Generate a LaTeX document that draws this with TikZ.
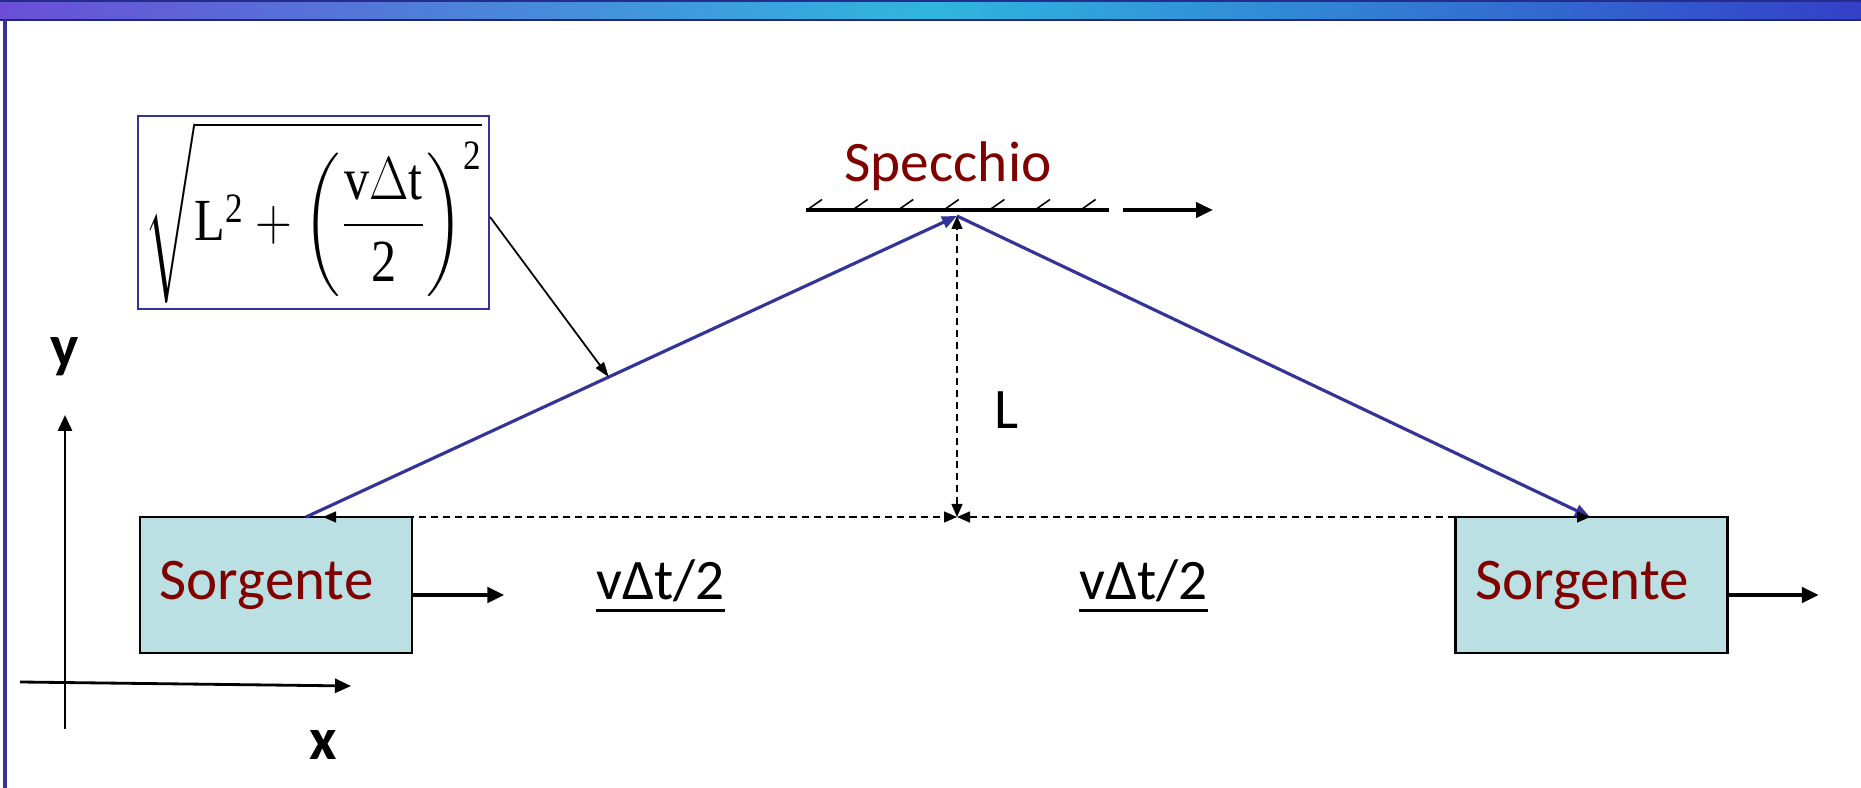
\documentclass[tikz,border=0pt]{standalone}
\usepackage{amsmath,amssymb}
\usepackage{graphicx}
\usepackage{fontspec}
\setmainfont{Liberation Serif}
\setsansfont{Carlito}
\usetikzlibrary{arrows.meta,positioning,calc}
\definecolor{wine}{HTML}{800000}
\definecolor{beamblue}{HTML}{333399}
\definecolor{srcfill}{HTML}{BAE0E3}
\definecolor{bandA}{HTML}{6A4FD6}
\definecolor{bandB}{HTML}{2FB6DE}
\definecolor{bandC}{HTML}{3440C8}

\begin{document}
\begin{tikzpicture}[x=1cm,y=1cm,font=\sffamily\fontsize{16.3}{19}\selectfont,
      box/.style={draw,line width=0.8pt,fill=srcfill,text=wine,inner sep=0pt,
                  minimum width=2.72cm,minimum height=1.36cm,
                  font=\sffamily\fontsize{16.8}{19}\selectfont},
      move/.style={line width=1.2pt,-{Triangle[length=1.7mm,width=1.5mm]}},
      beam/.style={beamblue,line width=0.9pt,-{Triangle[length=1.5mm,width=1.2mm]}},
      meas/.style={line width=0.4pt,dash pattern=on 2pt off 1.4pt,
                   {Triangle[length=1.3mm,width=1.1mm]}-{Triangle[length=1.3mm,width=1.1mm]}},
      axis/.style={line width=0.8pt,-{Triangle[length=1.6mm,width=1.4mm]}},
      lbl/.style={font=\sffamily\bfseries\fontsize{17}{20}\selectfont}]
    \useasboundingbox (0,0) rectangle (18.61,7.88);

    % slide frame
    \shade[left color=bandA,right color=bandC,middle color=bandB] (0,7.68) rectangle (18.61,7.88);
    \draw[bandC!60!black,line width=0.8pt] (0,7.68) -- (18.61,7.68);
    \draw[bandC!70!black,line width=0.8pt] (0,7.87) -- (18.61,7.87);
    \draw[beamblue,line width=0.9pt] (0.05,0) -- (0.05,7.68);

    % axes
    \draw[axis] (0.65,0.59) -- (0.65,3.73);
    \draw[axis] (0.20,1.06) -- (3.51,1.02);
    \node[lbl] (ylab) at (0.65,4.31) {y};
    \node[lbl] (xlab) at (3.23,0.43) {x};

    % sources
    \node[box] (src1) at (2.76,2.03) {Sorgente\kern1.9mm};
    \node[box] (src2) at (15.915,2.03) {Sorgente\kern1.9mm};
    \draw[move] ([yshift=-1mm]src1.east) -- ++(0.91,0);
    \draw[move] ([yshift=-1mm]src2.east) -- ++(0.90,0);

    % mirror
    \coordinate (m1) at (8.06,5.78);
    \coordinate (m2) at (11.09,5.78);
    \draw[line width=1pt] (m1) -- (m2);
    \foreach \i in {0,...,6}{
      \draw[line width=0.45pt] ($(m1)+(0.01+0.456*\i,0)$) -- ++(0.15,0.105);}
    \draw[move] ([xshift=1.4mm]m2) -- ++(0.90,0);
    \node[text=wine,anchor=base] (spec) at (9.48,6.06) {Specchio};

    % light path
    \coordinate (hit) at (9.57,5.72);
    \coordinate (foot) at (9.57,2.71);
    \coordinate (emit) at (3.06,2.71);
    \coordinate (recv) at (15.90,2.71);
    \coordinate (lend) at (3.23,2.71);
    \draw[beam] (emit) -- (hit);
    \draw[beam] (hit) -- (recv);
    \draw[meas] (lend) -- (foot);
    \draw[meas] (foot) -- (recv);
    \draw[meas] (foot) -- (hit);
    \node (len) at (10.07,3.78) {L};
    \node[anchor=base] (half1) at (6.605,1.88) {\underline{vΔt/2}};
    \node[anchor=base] (half2) at (11.435,1.88) {\underline{vΔt/2}};

    % path length
    \node[draw=beamblue,line width=0.6pt,minimum width=3.51cm,minimum height=1.93cm,
          inner sep=0pt,font=\fontsize{17}{20}\selectfont] (formula) at (3.135,5.755)
      {\scalebox{0.84}[1]{$\displaystyle\sqrt{\mathrm{L}^{\mathrm{2}}+\left(\frac{\mathrm{v}\Delta\mathrm{t}}{\mathrm{2}}\right)^{\mathrm{2}}}$}};
    \coordinate (tap) at ($(emit)!0.465!(hit)$);
    \draw[line width=0.5pt,-{Triangle[length=1.5mm,width=1mm]}] ([yshift=-0.45mm]formula.east) -- (tap);
  \end{tikzpicture}
\end{document}
